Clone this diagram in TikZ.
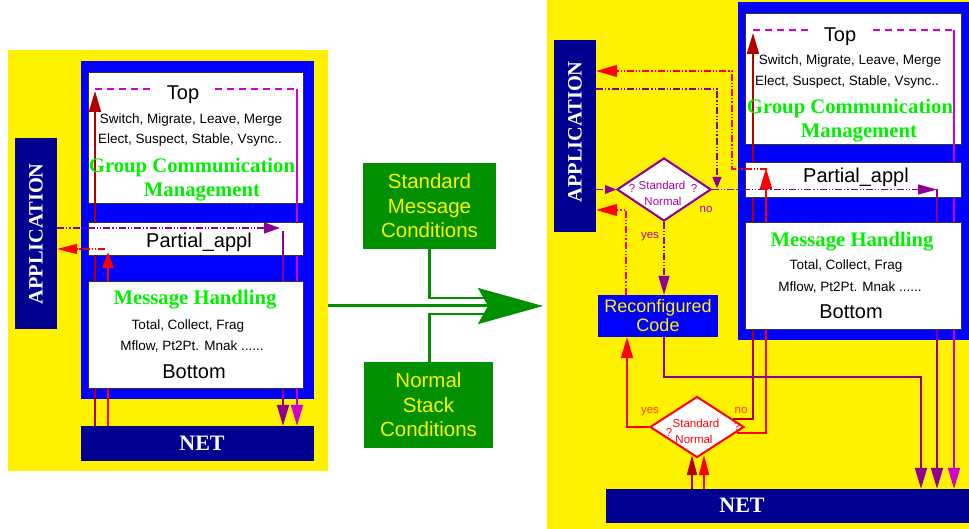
\documentclass[tikz,border=0pt]{standalone}
\usepackage{fontspec}
\setmainfont{Liberation Sans}
\newfontfamily\tnr{Liberation Serif}
\usetikzlibrary{arrows.meta,shapes.geometric}
\definecolor{navy}{RGB}{0,0,144}
\definecolor{redthree}{RGB}{176,0,0}
\definecolor{magfour}{RGB}{144,0,144}
\definecolor{magtwo}{RGB}{208,0,208}
\definecolor{magthree}{RGB}{176,0,176}
\definecolor{gfour}{RGB}{0,144,0}
\definecolor{gcgreen}{RGB}{0,240,0}
\definecolor{yesred}{RGB}{255,64,0}
\begin{document}
\begin{tikzpicture}[x=1pt,y=-1pt,
  wbox/.style={draw=black!80, line width=0.8pt, fill=white, inner sep=0pt},
  nbox/.style={fill=navy, inner sep=0pt},
  gbox/.style={fill=gfour, text=yellow, align=center, font=\fontsize{20.5}{24.5}\selectfont, inner sep=0pt},
  big/.style={font=\fontsize{20}{24}\selectfont, anchor=base, inner sep=0pt},
  sml/.style={font=\fontsize{13.5}{16}\selectfont, anchor=base, inner sep=0pt},
  gc/.style={font=\tnr\bfseries\fontsize{20.7}{24}\selectfont, text=gcgreen, anchor=base, inner sep=0pt},
  nett/.style={font=\tnr\bfseries\fontsize{22}{24}\selectfont, text=white, anchor=base, inner sep=0pt},
  appt/.style={font=\tnr\bfseries\fontsize{20.4}{24}\selectfont, text=white, rotate=90, inner sep=0pt},
  dtxt/.style={font=\fontsize{11.5}{13}\selectfont, anchor=base, inner sep=0pt},
  ddot/.style={line width=1.2pt, dash pattern=on 7pt off 2pt on 1.2pt off 2pt on 1.2pt off 2pt},
  solidc/.style={line width=2pt},
  dshm/.style={line width=1.5pt, dash pattern=on 7pt off 5pt},
  hd/.style={-{Triangle[length=21pt,width=12pt]}},
  hds/.style={-{Triangle[length=11pt,width=9pt]}},
]
\fill[white] (0,0) rectangle (969,529);
\useasboundingbox (0,0) rectangle (969,529);
% panels
\fill[yellow] (8,50) rectangle (328,471);
\fill[blue] (81,61) rectangle (314,399);
\fill[yellow] (547,0) rectangle (969,529);
\fill[blue] (738,2) rectangle (969,340);

% fixed boxes
\node[nbox, minimum width=233pt, minimum height=35pt] (netL) at (197.5,443.5) {};
\node[nbox, minimum width=42pt, minimum height=191pt] (appL) at (36,233.5) {};
\node[nbox, minimum width=363pt, minimum height=34pt] (netR) at (787.5,506) {};
\node[nbox, minimum width=42pt, minimum height=192pt] (appR) at (575,136) {};
\node[fill=blue, inner sep=0pt, minimum width=120pt, minimum height=42pt, text=yellow, align=center, font=\fontsize{18}{19}\selectfont] (recR) at (658,316) {Reconfigured\\Code};
\node[diamond, draw=magfour, fill=white, line width=2pt, minimum width=94pt, minimum height=63pt, inner sep=0pt] (pdia) at (664,189.5) {};
\node[diamond, draw=red, fill=white, line width=2pt, minimum width=94pt, minimum height=61pt, inner sep=0pt] (rdia) at (697,427) {};

% middle
\node[gbox, minimum width=133pt, minimum height=86pt] (smc) at (429.5,206) {Standard\\Message\\Conditions};
\node[gbox, minimum width=129pt, minimum height=86pt] (nsc) at (428.5,405) {Normal\\Stack\\Conditions};
\coordinate (mstart) at (328,306);
\coordinate (mtip) at (543,306);
\coordinate (bu) at (487,298);
\coordinate (bd) at (487,314);
\draw[gfour, line width=2.5pt] (smc.south) |- (bu);
\draw[gfour, line width=2.5pt] (nsc.north -| smc.south) |- (bd);
\draw[gfour, line width=3pt, -{Stealth[length=65pt,width=36pt,inset=10pt]}] (mstart) -- (mtip);

% top boxes
\node[wbox, minimum width=215pt, minimum height=131pt] (topL) at (195.5,137.5) {};
\node[wbox, minimum width=216pt, minimum height=131pt] (topR) at (853,78.5) {};

% long lines (under partial / message boxes)
\coordinate (drL) at (95,91);
\draw[redthree, solidc, hd] (netL.north -| drL) -- (drL);
\coordinate (mgL1) at (95,89);
\coordinate (mgL2) at (297,89);
\draw[magtwo, dshm] (mgL1) -- (mgL2);
\draw[magtwo, solidc, hd] (mgL2) -- (netL.north -| mgL2);

\coordinate (drR) at (753,33);
\draw[redthree, solidc, hd] (rdia.12) -- (rdia.12 -| drR) -- (drR);
\coordinate (mgR1) at (753,30);
\coordinate (mgR2) at (954,30);
\draw[magtwo, dshm] (mgR1) -- (mgR2);
\draw[magtwo, solidc, hd] (mgR2) -- (netR.north -| mgR2);

% partial boxes
\node[wbox, minimum width=215pt, minimum height=33pt] (partL) at (195.5,238.5) {};
\node[wbox, minimum width=216pt, minimum height=35pt] (partR) at (853,179.5) {};

% arrows ending in partial boxes
\coordinate (rL) at (108,252);
\draw[red, solidc, -{Triangle[length=16pt,width=11pt]}] (netL.north -| rL) -- (rL);
\coordinate (pL) at (283,231);
\draw[magfour, solidc, hd] (pL) -- (netL.north -| pL);

\coordinate (rR) at (766,168);
\draw[red, solidc, hd] (rdia.-8) -- (rdia.-8 -| rR) -- (rR);
\coordinate (pd3) at (937,190);
\draw[magfour, solidc, hd] (pdia.east -| pd3) -- (netR.north -| pd3);

% message boxes
\node[wbox, minimum width=215pt, minimum height=107pt] (msgL) at (195.5,334.5) {};
\node[wbox, minimum width=216pt, minimum height=107pt] (msgR) at (853,275.5) {};

% dash-dot connectors, left
\coordinate (rdL) at (105,249);
\draw[red, ddot, -{Triangle[length=20pt,width=10pt]}] (rdL) -- (appL.east |- rdL);
\coordinate (pdL) at (280,228);
\draw[magfour, ddot, -{Triangle[length=16pt,width=11pt]}] (appL.east |- pdL) -- (pdL);

% dash-dot connectors, right
\coordinate (rd1) at (767,169);
\coordinate (rd2) at (732,71);
\draw[red, ddot, hd] (rd1) -- (rd1 -| rd2) -- (rd2) -- (appR.east |- rd2);
\coordinate (rd3) at (626,210);
\draw[red, ddot, hd] (recR.north -| rd3) -- (rd3) -- (appR.east |- rd3);
\coordinate (pd1) at (717,89);
\coordinate (pd2) at (717,188);
\draw[magfour, ddot, hds] (appR.east |- pd1) -- (pd1) -- (pd2);
\draw[magfour, ddot, hds] (appR.east |- pdia.west) -- (pdia.west);
\draw[magfour, ddot, -{Triangle[length=19pt,width=10pt]}] (pdia.east) -- (pdia.east -| pd3);
\draw[magfour, ddot, -{Triangle[length=19pt,width=11pt]}] (pdia.south) -- (recR.north -| pdia.south);

% solid connectors, right bottom
\coordinate (pu1) at (664,377);
\coordinate (pu2) at (921,377);
\draw[magfour, solidc, hd] (recR.south -| pu1) -- (pu1) -- (pu2) -- (netR.north -| pu2);
\coordinate (yy) at (627,427);
\draw[red, solidc, hd] (rdia.west) -- (yy) -- (recR.south -| yy);
\coordinate (nr1) at (692,455);
\coordinate (nr2) at (704,455);
\draw[redthree, solidc, -{Triangle[length=20pt,width=10pt]}] (netR.north -| nr1) -- (nr1);
\draw[red, solidc, -{Triangle[length=20pt,width=10pt]}] (netR.north -| nr2) -- (nr2);

% texts left
\node[big, fill=white, inner xsep=14pt, inner ysep=3pt] (tTopL) at (183,100) {Top};
\node[sml] (tSwL) at (191,124) {Switch, Migrate, Leave, Merge};
\node[sml] (tElL) at (190,144) {Elect, Suspect, Stable, Vsync..};
\node[gc] (tGcL) at (192,173) {Group Communication};
\node[gc] (tMgL) at (202,197) {Management};
\node[big] (tPaL) at (199,248) {Partial\_appl};
\node[gc] (tMhL) at (195,305) {Message Handling};
\node[sml] (tToL) at (188,329) {Total, Collect, Frag};
\node[sml] (tMfL) at (192,350) {Mflow, Pt2Pt. Mnak ......};
\node[big] (tBoL) at (194,378) {Bottom};
\node[nett] (tNetL) at (202,450) {NET};
\node[appt] (tAppL) at (36,234) {APPLICATION};

% texts right
\node[big, fill=white, inner xsep=14pt, inner ysep=3pt] (tTopR) at (840,42) {Top};
\node[sml] (tSwR) at (850,65) {Switch, Migrate, Leave, Merge};
\node[sml] (tElR) at (847,86) {Elect, Suspect, Stable, Vsync..};
\node[gc] (tGcR) at (850,114) {Group Communication};
\node[gc] (tMgR) at (859,138) {Management};
\node[big] (tPaR) at (856,183) {Partial\_appl};
\node[gc] (tMhR) at (852,247) {Message Handling};
\node[sml] (tToR) at (846,270) {Total, Collect, Frag};
\node[sml] (tMfR) at (850,291) {Mflow, Pt2Pt. Mnak ......};
\node[big] (tBoR) at (851,319) {Bottom};
\node[nett] (tNetR) at (742,512) {NET};
\node[appt] (tAppR) at (575,132) {APPLICATION};

% diamond texts
\node[dtxt, text=magthree] (pS) at (662,190) {Standard};
\node[dtxt, text=magthree] (pN) at (663,206) {Normal};
\node[dtxt, text=magthree] (pQ1) at (632,193) {?};
\node[dtxt, text=magthree] (pQ2) at (694,193) {?};
\node[dtxt, text=magthree] (pNo) at (706,213) {no};
\node[dtxt, text=magthree] (pYes) at (650,239) {yes};
\node[dtxt, text=red] (rS) at (696,427) {Standard};
\node[dtxt, text=red] (rN) at (694,443) {Normal};
\node[dtxt, text=red] (rQ1) at (669,436) {?};
\node[dtxt, text=red] (rQ2) at (737,430) {?};
\node[dtxt, text=yesred] (rYes) at (650,413) {yes};
\node[dtxt, text=yesred] (rNo) at (741,413) {no};
\end{tikzpicture}
\end{document}
